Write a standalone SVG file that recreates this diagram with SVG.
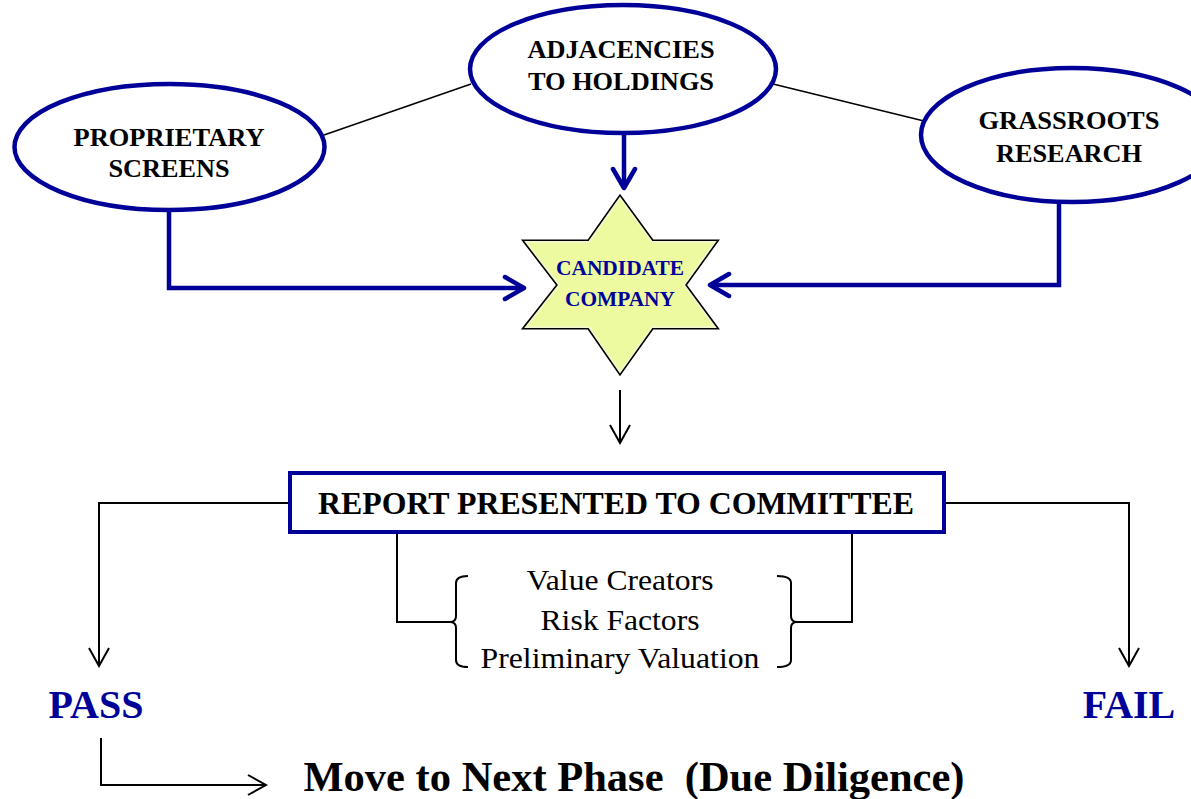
<svg xmlns="http://www.w3.org/2000/svg" width="1191" height="799" viewBox="0 0 1191 799">
<defs>
<style>
.ell{fill:#fff;stroke:#000099;stroke-width:4.5}
.lbl{font-family:"Liberation Serif","Times New Roman",serif;font-weight:bold;fill:#000;text-anchor:middle}
.blue{fill:none;stroke:#000099;stroke-width:4.5}
.blk{fill:none;stroke:#000;stroke-width:2}
.thin{fill:none;stroke:#000;stroke-width:1.5}
.item{font-family:"Liberation Serif","Times New Roman",serif;font-size:29px;fill:#000;text-anchor:middle}
</style>
<marker id="ab" markerUnits="userSpaceOnUse" viewBox="-24 -14 28 28" refX="0" refY="0" markerWidth="28" markerHeight="28" orient="auto">
<path d="M-19,-11 L0,0 L-19,11" fill="none" stroke="#000099" stroke-width="4.5" stroke-linecap="round" stroke-linejoin="round"/>
</marker>
<marker id="ak" markerUnits="userSpaceOnUse" viewBox="-22 -12 24 24" refX="0" refY="0" markerWidth="24" markerHeight="24" orient="auto">
<path d="M-18,-10 L0,0 L-18,10" fill="none" stroke="#000" stroke-width="2"/>
</marker>
</defs>
<rect width="1191" height="799" fill="#fff"/>
<g id="connectors">
<line class="thin" x1="324" y1="135" x2="471" y2="84"/>
<line class="thin" x1="773" y1="84" x2="924" y2="121"/>
<path class="blue" d="M624,134 V188" marker-end="url(#ab)"/>
<path class="blue" d="M169,210 V288 H524" marker-end="url(#ab)"/>
<path class="blue" d="M1059,202 V285 H710" marker-end="url(#ab)"/>
<path class="blk" d="M620,390 V443" marker-end="url(#ak)"/>
<path class="blk" d="M290,503 H99 V666" marker-end="url(#ak)"/>
<path class="blk" d="M944,503 H1129 V666" marker-end="url(#ak)"/>
<path class="blk" d="M397,532 V622 H452"/>
<path class="blk" d="M852,532 V622 H794"/>
<path class="blk" d="M468,576 Q456,576 456,583 V616 Q456,622 450,622 Q456,622 456,628 V660 Q456,667 468,667"/>
<path class="blk" d="M777,576 Q791,576 791,583 V616 Q791,622 797,622 Q791,622 791,628 V660 Q791,667 777,667"/>
<path class="blk" d="M101,738 V785 H266" marker-end="url(#ak)"/>
</g>
<g id="proprietary">
<ellipse class="ell" cx="169.5" cy="147" rx="155" ry="63"/>
<text class="lbl" font-size="26" x="169" y="146" textLength="191" lengthAdjust="spacingAndGlyphs">PROPRIETARY</text>
<text class="lbl" font-size="26" x="169" y="177" textLength="121" lengthAdjust="spacingAndGlyphs">SCREENS</text>
</g>
<g id="adjacencies">
<ellipse class="ell" cx="623" cy="69" rx="153" ry="64"/>
<text class="lbl" font-size="26" x="621" y="58" textLength="187" lengthAdjust="spacingAndGlyphs">ADJACENCIES</text>
<text class="lbl" font-size="26" x="621" y="90" textLength="186" lengthAdjust="spacingAndGlyphs">TO HOLDINGS</text>
</g>
<g id="grassroots">
<ellipse class="ell" cx="1072" cy="135" rx="151" ry="67"/>
<text class="lbl" font-size="26" x="1069" y="129" textLength="181" lengthAdjust="spacingAndGlyphs">GRASSROOTS</text>
<text class="lbl" font-size="26" x="1069" y="162" textLength="146" lengthAdjust="spacingAndGlyphs">RESEARCH</text>
</g>
<g id="candidate">
<polygon points="620,198 652,242 715,242 684,285 715,327 652,327 620,372 589,327 526,327 559,285 526,242 589,242" fill="#EEFAA0" stroke="#000" stroke-width="5" stroke-linejoin="miter"/>
<polygon points="620,198 652,242 715,242 684,285 715,327 652,327 620,372 589,327 526,327 559,285 526,242 589,242" fill="#EEFAA0" stroke="#F4F8C8" stroke-width="1.8" stroke-linejoin="miter"/>
<text class="lbl" font-size="20" x="620" y="275" style="fill:#000099" textLength="128" lengthAdjust="spacingAndGlyphs">CANDIDATE</text>
<text class="lbl" font-size="20" x="620" y="306" style="fill:#000099" textLength="110" lengthAdjust="spacingAndGlyphs">COMPANY</text>
</g>
<g id="report">
<rect x="290" y="473" width="654" height="59" fill="#fff" stroke="#000099" stroke-width="4"/>
<text class="lbl" font-size="31" x="616" y="514" textLength="596" lengthAdjust="spacingAndGlyphs">REPORT PRESENTED TO COMMITTEE</text>
</g>
<g id="items">
<text class="item" x="620" y="590" textLength="187" lengthAdjust="spacingAndGlyphs">Value Creators</text>
<text class="item" x="620" y="630" textLength="159" lengthAdjust="spacingAndGlyphs">Risk Factors</text>
<text class="item" x="620" y="668" textLength="279" lengthAdjust="spacingAndGlyphs">Preliminary Valuation</text>
</g>
<g id="pass">
<text class="lbl" font-size="40" x="96" y="718" style="fill:#000099">PASS</text>
</g>
<g id="fail">
<text class="lbl" font-size="40" x="1129" y="718" style="fill:#000099">FAIL</text>
</g>
<g id="next">
<text class="lbl" font-size="42" x="634" y="791" xml:space="preserve" textLength="661" lengthAdjust="spacingAndGlyphs">Move to Next Phase  (Due Diligence)</text>
</g>
</svg>
